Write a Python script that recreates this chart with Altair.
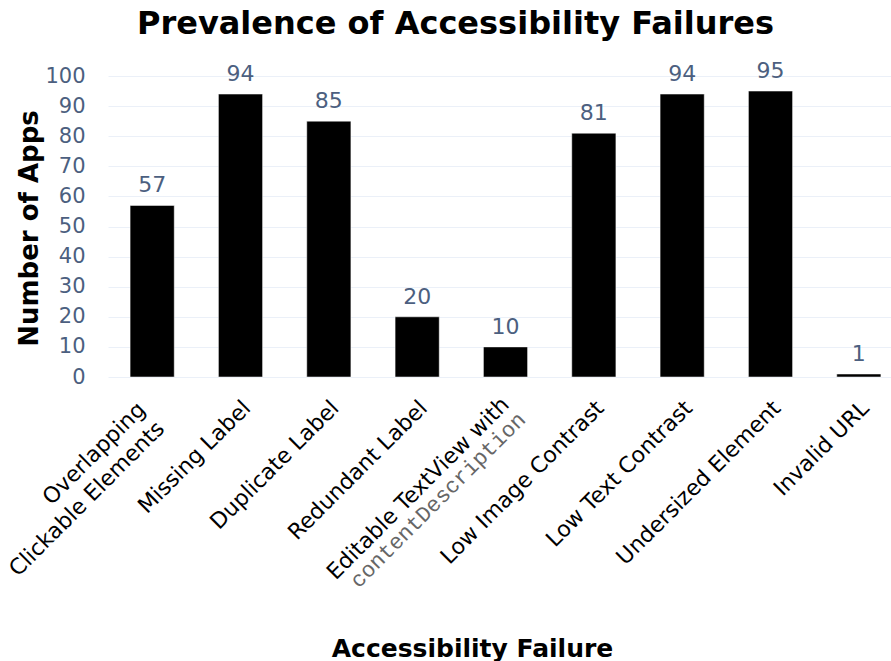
import altair as alt
import pandas as pd

# Accessibility failures found across the scanned apps
failures = [
    "Overlapping Clickable Elements",
    "Missing Label",
    "Duplicate Label",
    "Redundant Label",
    "Editable TextView with contentDescription",
    "Low Image Contrast",
    "Low Text Contrast",
    "Undersized Element",
    "Invalid URL",
]
app_counts = [57, 94, 85, 20, 10, 81, 94, 95, 1]

# Tick-label text, split into the lines shown under each bar
label_line1 = [
    "Overlapping",
    "Missing Label",
    "Duplicate Label",
    "Redundant Label",
    "Editable TextView with",
    "Low Image Contrast",
    "Low Text Contrast",
    "Undersized Element",
    "Invalid URL",
]
label_line2 = ["Clickable Elements", "", "", "", "contentDescription", "", "", "", ""]

y_ticks = list(range(0, 101, 10))

df = pd.DataFrame(
    {
        "failure": failures,
        "apps": app_counts,
        "line1": label_line1,
        "line2": label_line2,
    }
)

SANS = "DejaVu Sans"
MONO = "Courier New, Nimbus Mono PS, FreeMono, Liberation Mono, monospace"
TICK_COLOR = "#4c5f7f"

x_scale = alt.Scale(range=[0, 795], paddingInner=0.5, paddingOuter=0.25)
x_axis = alt.Axis(
    labels=False,
    ticks=False,
    domain=False,
    grid=False,
    title="Accessibility Failure",
    titleFont=SANS,
    titleFontSize=25,
    titleFontWeight="bold",
    titleColor="black",
    titleBaseline="alphabetic",
    titleAlign="center",
    titleX=364,
    titleY=279,
)

y_scale = alt.Scale(domain=[0, 100], nice=False)
y_axis = alt.Axis(
    values=y_ticks,
    ticks=False,
    tickSize=0,
    domain=False,
    grid=True,
    gridColor="#ebf0f8",
    gridWidth=1,
    labelFont=SANS,
    labelFontSize=21,
    labelColor=TICK_COLOR,
    labelPadding=23,
    labelOverlap=False,
    title="Number of Apps",
    titleFont=SANS,
    titleFontSize=26,
    titleFontWeight="bold",
    titleColor="black",
    titleAngle=270,
    titleBaseline="alphabetic",
    titleAlign="center",
    titleX=-71,
    titleY=152,
)


def x_enc():
    return alt.X("failure:N", sort=failures, scale=x_scale, axis=x_axis)


base = alt.Chart(df)

bars = base.mark_bar(color="black", stroke="white", strokeWidth=0.5).encode(
    x=x_enc(),
    y=alt.Y("apps:Q", scale=y_scale, axis=y_axis),
)

value_labels = base.mark_text(
    font=SANS, fontSize=22, color=TICK_COLOR, baseline="alphabetic", dy=-13
).encode(
    x=x_enc(),
    y=alt.Y("apps:Q", scale=y_scale, axis=y_axis),
    text="apps:Q",
)


def tick_text(filter_expr, field, dx, dy, font=SANS, color="black"):
    """Rotated category label anchored under a bar."""
    return (
        base.transform_filter(filter_expr)
        .mark_text(
            font=font,
            fontSize=22,
            color=color,
            angle=315,
            align="right",
            baseline="middle",
            dx=dx,
            dy=dy,
        )
        .encode(
            x=x_enc(),
            y=alt.YDatum(0, type="quantitative", scale=y_scale, axis=y_axis),
            text=f"{field}:N",
        )
    )


# shift that moves every rotated label back along its own direction
SHIFT = -7

single = tick_text("datum.line2 == ''", "line1", -8 + SHIFT, 31 + SHIFT)
overlap_1 = tick_text(
    "datum.failure == 'Overlapping Clickable Elements'", "line1", -21 + SHIFT, 20 + SHIFT
)
overlap_2 = tick_text(
    "datum.failure == 'Overlapping Clickable Elements'", "line2", -21 + SHIFT, 47 + SHIFT
)
edit_1 = tick_text(
    "datum.failure == 'Editable TextView with contentDescription'",
    "line1",
    -10 + SHIFT,
    24 + SHIFT,
)
edit_2 = tick_text(
    "datum.failure == 'Editable TextView with contentDescription'",
    "line2",
    -9 + SHIFT,
    46 + SHIFT,
    font=MONO,
    color="#666666",
)

chart = (
    alt.layer(bars, value_labels, single, overlap_1, overlap_2, edit_1, edit_2)
    .properties(
        width=783,
        height=301,
        autosize=alt.AutoSizeParams(type="none"),
        padding={"left": 108, "top": 76, "right": 0, "bottom": 284},
        title=alt.TitleParams(
            "Prevalence of Accessibility Failures",
            font=SANS,
            fontSize=32,
            fontWeight="bold",
            color="black",
            anchor="middle",
            baseline="alphabetic",
            offset=26,
            dx=-44,
            dy=32,
        ),
        background="white",
    )
    .configure_view(stroke=None)
)

chart.save("out.html", embed_options={"renderer": "svg", "actions": False})
